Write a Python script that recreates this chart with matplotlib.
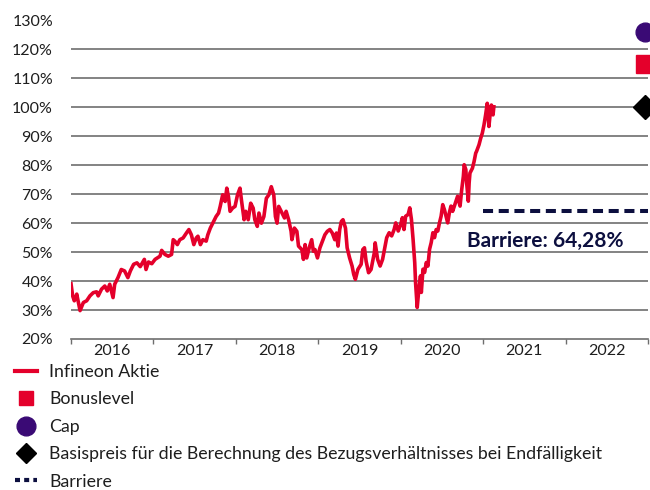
import matplotlib
matplotlib.use("Agg")
import matplotlib.pyplot as plt
from matplotlib.lines import Line2D

plt.rcParams['font.family'] = ['Lato', 'DejaVu Sans']

# ---- data (decimal years, % of start level) ----
years = [2016.00, 2016.02, 2016.04, 2016.07, 2016.08, 2016.11, 2016.15, 2016.19, 2016.23, 2016.27,
         2016.31, 2016.33, 2016.37, 2016.41, 2016.44, 2016.47, 2016.51, 2016.53, 2016.57, 2016.61,
         2016.65, 2016.69, 2016.72, 2016.76, 2016.80, 2016.84, 2016.89, 2016.91, 2016.94, 2016.98,
         2017.02, 2017.08, 2017.10, 2017.14, 2017.18, 2017.22, 2017.24, 2017.26, 2017.29, 2017.32,
         2017.36, 2017.40, 2017.43, 2017.46, 2017.49, 2017.52, 2017.54, 2017.57, 2017.60, 2017.64,
         2017.66, 2017.69, 2017.72, 2017.76, 2017.79, 2017.81, 2017.84, 2017.87, 2017.89, 2017.91,
         2017.93, 2017.96, 2017.99, 2018.02, 2018.05, 2018.07, 2018.10, 2018.12, 2018.15, 2018.18,
         2018.21, 2018.23, 2018.26, 2018.28, 2018.31, 2018.34, 2018.37, 2018.40, 2018.43, 2018.46,
         2018.48, 2018.50, 2018.52, 2018.55, 2018.59, 2018.61, 2018.64, 2018.67, 2018.68, 2018.71,
         2018.74, 2018.76, 2018.80, 2018.82, 2018.84, 2018.86, 2018.89, 2018.92, 2018.94, 2018.96,
         2018.99, 2019.02, 2019.05, 2019.08, 2019.11, 2019.14, 2019.17, 2019.20, 2019.22, 2019.24,
         2019.26, 2019.28, 2019.30, 2019.33, 2019.35, 2019.38, 2019.41, 2019.43, 2019.45, 2019.48,
         2019.52, 2019.54, 2019.56, 2019.58, 2019.61, 2019.64, 2019.68, 2019.69, 2019.72, 2019.75,
         2019.78, 2019.81, 2019.83, 2019.86, 2019.89, 2019.92, 2019.94, 2019.97, 2020.00, 2020.02,
         2020.04, 2020.06, 2020.09, 2020.11, 2020.13, 2020.15, 2020.17, 2020.18, 2020.20, 2020.22,
         2020.24, 2020.25, 2020.27, 2020.29, 2020.31, 2020.33, 2020.35, 2020.37, 2020.39, 2020.41,
         2020.43, 2020.45, 2020.47, 2020.49, 2020.51, 2020.53, 2020.55, 2020.57, 2020.59, 2020.61,
         2020.63, 2020.67, 2020.69, 2020.72, 2020.74, 2020.76, 2020.77, 2020.79, 2020.80, 2020.82,
         2020.83, 2020.84, 2020.87, 2020.89, 2020.91, 2020.92, 2020.95, 2020.97, 2020.99, 2021.01,
         2021.03, 2021.05, 2021.07, 2021.09, 2021.10, 2021.12, 2021.13]
aktie = [39.1, 34.9, 33.2, 35.5, 34.0, 29.8, 32.6, 33.2, 34.9, 36.0,
         36.3, 34.9, 37.2, 38.3, 36.6, 38.9, 34.3, 38.9, 41.2, 44.0,
         43.5, 41.2, 43.5, 45.8, 46.3, 45.0, 47.5, 44.0, 46.6, 46.0,
         47.5, 48.6, 50.6, 49.2, 48.6, 49.2, 54.3, 53.8, 52.6, 54.3,
         54.9, 56.6, 57.8, 56.0, 52.6, 54.9, 55.5, 52.6, 54.3, 53.8,
         56.0, 58.3, 60.0, 62.3, 63.5, 65.8, 69.8, 67.5, 72.1, 69.2,
         64.1, 65.2, 65.8, 69.8, 72.1, 67.5, 61.2, 64.1, 61.2, 66.9,
         65.2, 61.2, 58.9, 63.5, 60.0, 62.3, 68.6, 69.8, 72.6, 69.8,
         62.3, 60.0, 65.8, 64.1, 61.8, 64.1, 61.2, 57.2, 54.3, 58.3,
         57.2, 52.1, 50.9, 47.5, 52.6, 48.0, 51.5, 54.3, 50.3, 50.9,
         48.0, 51.5, 53.8, 56.0, 57.2, 57.8, 56.6, 54.3, 56.6, 52.1,
         57.8, 60.6, 61.2, 58.3, 51.5, 48.0, 45.2, 42.3, 40.6, 44.0,
         45.8, 50.9, 51.5, 46.9, 42.9, 44.0, 49.8, 53.2, 47.5, 45.2,
         47.5, 52.1, 55.0, 56.7, 55.6, 57.8, 60.1, 57.3, 59.6, 61.9,
         57.8, 62.4, 63.0, 65.3, 61.3, 54.4, 46.4, 39.5, 30.9, 37.2,
         41.8, 36.1, 44.1, 43.0, 46.4, 45.2, 51.0, 53.3, 56.7, 55.0,
         57.8, 57.3, 60.1, 62.4, 66.4, 64.7, 62.4, 60.1, 63.6, 65.9,
         64.1, 67.6, 69.3, 65.9, 71.6, 76.2, 80.2, 78.5, 73.9, 67.6,
         73.9, 77.3, 79.0, 81.3, 84.2, 84.8, 87.1, 89.3, 91.1, 93.9,
         97.4, 101.4, 93.4, 99.1, 100.8, 97.4, 100.2]

maturity = 2022.96
bonuslevel = 115.0
cap = 126.0
basispreis = 100.0
barriere = 64.28
barrier_start = 2021.0
barrier_end = 2023.0

year_labels = ['2016', '2017', '2018', '2019', '2020', '2021', '2022']
y_ticks = [20, 30, 40, 50, 60, 70, 80, 90, 100, 110, 120, 130]

RED = '#e4002b'
PURPLE = '#3a0a75'
NAVY = '#0c0f3f'
GRID = '#6e6e6e'
TXT = '#1e1e1e'

fig = plt.figure(figsize=(6.5, 4.9), dpi=100)
ax = fig.add_axes([71 / 650, 1 - 339 / 490, 577 / 650, (339 - 20.5) / 490])
ax.set_xlim(2016, 2023)
ax.set_ylim(20, 130)

# grid lines
for v in y_ticks[1:]:
    ax.axhline(v, color=GRID, lw=1.2, zorder=1)

line, = ax.plot(years, aktie, color=RED, lw=2.6, zorder=3, solid_joinstyle='round')

barr, = ax.plot([barrier_start, barrier_end], [barriere, barriere], color=NAVY, lw=2.9,
                dashes=(2.5, 1.4), zorder=3, clip_on=False)
ax.text(2020.81, 53.8, 'Barriere: 64,28%', color=NAVY, fontsize=15, fontweight='bold',
        ha='left', va='center')

cap_m, = ax.plot([maturity], [cap], 'o', color=PURPLE, ms=13.5, clip_on=False, zorder=4)
bon_m, = ax.plot([maturity], [bonuslevel], 's', color=RED, ms=13.5, clip_on=False, zorder=4)
bas_m, = ax.plot([maturity], [basispreis], 'D', color='black', ms=12.5, clip_on=False, zorder=4)

# axes styling
for s in ['top', 'right', 'left']:
    ax.spines[s].set_visible(False)
ax.spines['bottom'].set_color(GRID)
ax.spines['bottom'].set_linewidth(1.2)
ax.set_yticks(y_ticks)
ax.set_yticklabels([f'{v}%' for v in y_ticks])
ax.tick_params(axis='y', length=0, pad=13, labelsize=11.5, labelcolor=TXT)
ax.set_xticks(range(2016, 2024))
ax.set_xticklabels([])
ax.tick_params(axis='x', which='major', length=3.5, color=GRID, width=1)
ax.set_xticks([y + 0.5 for y in range(2016, 2023)], minor=True)
ax.set_xticklabels(year_labels, minor=True)
ax.tick_params(axis='x', which='minor', length=0, pad=3.5, labelsize=11.5, labelcolor=TXT)

# legend
h_line = Line2D([], [], color=RED, lw=3)
h_sq = Line2D([], [], marker='s', color=RED, ls='none', ms=10.5)
h_ci = Line2D([], [], marker='o', color=PURPLE, ls='none', ms=13.5)
h_di = Line2D([], [], marker='D', color='black', ls='none', ms=10)
h_ba = Line2D([], [], color=NAVY, lw=3, dashes=(1.2, 1.0))
labels = ['Infineon Aktie', 'Bonuslevel', 'Cap',
          'Basispreis für die Berechnung des Bezugsverhältnisses bei Endfälligkeit', 'Barriere']
fig.legend([h_line, h_sq, h_ci, h_di, h_ba], labels, loc='upper left',
           bbox_to_anchor=(15 / 650, 1 - 364 / 490), frameon=False, fontsize=12.8,
           handlelength=1.25, handletextpad=0.68, labelspacing=0.64, borderpad=0,
           borderaxespad=0, labelcolor=TXT)

fig.savefig('out.png', dpi=100)
